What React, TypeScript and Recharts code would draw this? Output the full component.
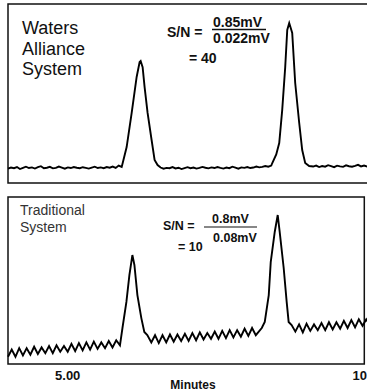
import React from 'react';
import { LineChart, Line, XAxis, YAxis, ReferenceArea } from 'recharts';

// time grid segments: start (min), step (min), signal values (mV)
type Segment = { start: number; step: number; values: number[] };

const topBaseLeft: Segment = {
    start: 4.0, step: 0.05,
    values: [0.085, 0.092, 0.088, 0.095, 0.083, 0.09, 0.097, 0.089, 0.093, 0.086, 0.094, 0.1, 0.088, 0.091, 0.096, 0.087, 0.09, 0.098, 0.092, 0.085,
        0.093, 0.089, 0.095, 0.091, 0.088, 0.094, 0.09, 0.086, 0.092, 0.097, 0.089, 0.093, 0.088, 0.095, 0.091, 0.098, 0.09, 0.104, 0.096],
};
const topPeak1: [number, number][] = [
    [5.917, 0.119], [5.983, 0.214], [6.067, 0.417], [6.15, 0.631], [6.2, 0.72], [6.217, 0.726],
    [6.25, 0.69], [6.283, 0.571], [6.333, 0.417], [6.4, 0.256], [6.45, 0.137], [6.5, 0.107],
];
const topBaseMid: Segment = {
    start: 6.55, step: 0.05,
    values: [0.092, 0.085, 0.09, 0.088, 0.095, 0.087, 0.091, 0.083, 0.089, 0.094, 0.088, 0.092, 0.086, 0.09, 0.096, 0.091, 0.087, 0.093, 0.089,
        0.095, 0.09, 0.086, 0.092, 0.088, 0.097, 0.091, 0.085, 0.093, 0.09, 0.095, 0.089, 0.092, 0.098, 0.093, 0.096, 0.101, 0.097, 0.104],
};
const topPeak2: [number, number][] = [
    [8.417, 0.119], [8.483, 0.17], [8.533, 0.238], [8.583, 0.435], [8.633, 0.69], [8.667, 0.911], [8.7, 0.952],
    [8.75, 0.893], [8.8, 0.595], [8.867, 0.357], [8.917, 0.196], [8.967, 0.119], [9.033, 0.101],
];
const topBaseRight: Segment = {
    start: 9.1, step: 0.05,
    values: [0.098, 0.104, 0.095, 0.101, 0.097, 0.106, 0.1, 0.094, 0.103, 0.099, 0.096, 0.105, 0.1, 0.097, 0.102, 0.108, 0.099, 0.104, 0.098, 0.105],
};

const bottomBaseLeft: Segment = {
    start: 4.0, step: 0.0625,
    values: [0.05, 0.1, 0.05, 0.11, 0.06, 0.11, 0.065, 0.12, 0.07, 0.115, 0.075, 0.125, 0.075, 0.13, 0.085, 0.125,
        0.085, 0.14, 0.09, 0.145, 0.095, 0.15, 0.1, 0.155, 0.105, 0.15, 0.11, 0.16, 0.115, 0.165, 0.13],
};
const bottomPeak1: [number, number][] = [
    [5.917, 0.25], [5.983, 0.431], [6.033, 0.618], [6.083, 0.757], [6.117, 0.688],
    [6.167, 0.479], [6.233, 0.319], [6.283, 0.222], [6.333, 0.201],
];
const bottomBaseMid: Segment = {
    start: 6.4, step: 0.0625,
    values: [0.15, 0.2, 0.145, 0.2, 0.15, 0.205, 0.155, 0.205, 0.16, 0.21, 0.16, 0.215, 0.165, 0.22, 0.17,
        0.215, 0.175, 0.225, 0.175, 0.23, 0.18, 0.235, 0.185, 0.235, 0.19, 0.245, 0.195, 0.25, 0.2],
};
const bottomPeak2: [number, number][] = [
    [8.25, 0.25], [8.3, 0.292], [8.367, 0.479], [8.4, 0.708], [8.467, 0.917], [8.517, 1.035],
    [8.55, 0.917], [8.617, 0.667], [8.667, 0.431], [8.7, 0.292], [8.75, 0.271],
];
const bottomBaseRight: Segment = {
    start: 8.8125, step: 0.0625,
    values: [0.225, 0.275, 0.22, 0.28, 0.23, 0.275, 0.235, 0.285, 0.235, 0.29, 0.24, 0.29, 0.245, 0.3, 0.25,
        0.305, 0.255, 0.31, 0.265, 0.31, 0.27],
};

const xTicks = [5, 10];
const xTickLabels: Record<number, string> = { 5: '5.00', 10: '10' };

const expand = (seg: Segment) => seg.values.map((v, i) => ({ t: +(seg.start + i * seg.step).toFixed(4), v }));
const pairs = (p: [number, number][]) => p.map(([t, v]) => ({ t, v }));

const topData = [...expand(topBaseLeft), ...pairs(topPeak1), ...expand(topBaseMid), ...pairs(topPeak2), ...expand(topBaseRight)];
const bottomData = [...expand(bottomBaseLeft), ...pairs(bottomPeak1), ...expand(bottomBaseMid), ...pairs(bottomPeak2), ...expand(bottomBaseRight)];

const FONT = '"Liberation Sans", Arial, Helvetica, sans-serif';
const X_DOMAIN: [number, number] = [4, 10.0333];

// the last label sits at the right edge of the page, so it is right-aligned there
const TimeTick = (props: any) => {
    const { x, y, payload } = props;
    const last = payload.value === 10;
    return (
        <text x={last ? 367 : x} y={y + 14} textAnchor={last ? 'end' : 'middle'}
            fill="#111" fontSize={13} fontWeight={700} fontFamily={FONT}>
            {xTickLabels[payload.value] ?? String(payload.value)}
        </text>
    );
};

const App: React.FC = () => {
    return (
        <div style={{ position: 'absolute', left: 0, top: 0, width: 367, height: 391, overflow: 'hidden', background: '#fff', fontFamily: FONT }}>
            <div style={{ position: 'absolute', left: 0, top: 0 }}>
                <LineChart width={380} height={190} data={topData} margin={{ top: 4, right: 10, left: 8, bottom: 7 }}>
                    <XAxis type="number" dataKey="t" domain={X_DOMAIN} hide />
                    <YAxis type="number" domain={[0, 1.0655]} hide />
                    <ReferenceArea x1={4} x2={10.0333} y1={0} y2={1.0655} fill="none" fillOpacity={0} stroke="#111" strokeWidth={1.5} ifOverflow="visible" />
                    <Line type="linear" dataKey="v" stroke="#000" strokeWidth={1.9} dot={false} isAnimationActive={false} />
                </LineChart>
            </div>
            <div style={{ position: 'absolute', left: 0, top: 190 }}>
                <LineChart width={380} height={201} data={bottomData} margin={{ top: 7, right: 10, left: 8, bottom: 0 }}>
                    <XAxis
                        type="number"
                        dataKey="t"
                        domain={X_DOMAIN}
                        ticks={xTicks}
                        axisLine={false}
                        tickLine={false}
                        tickSize={0}
                        height={27}
                        tick={<TimeTick />}
                        interval={0}
                    />
                    <YAxis type="number" domain={[0, 1.16]} hide />
                    <ReferenceArea x1={4} x2={9.967} y1={0} y2={1.16} fill="none" fillOpacity={0} stroke="#111" strokeWidth={1.5} ifOverflow="visible" />
                    <Line type="linear" dataKey="v" stroke="#000" strokeWidth={1.9} dot={false} isAnimationActive={false} />
                </LineChart>
            </div>
            <svg width={367} height={391} style={{ position: 'absolute', left: 0, top: 0, pointerEvents: 'none' }} fontFamily={FONT}>
                <g fill="#111" fontSize={18}>
                    <text x={22} y={34}>Waters</text>
                    <text x={22} y={54.5}>Alliance</text>
                    <text x={22} y={75}>System</text>
                </g>
                <g fill="#111" fontSize={14} fontWeight={700}>
                    <text x={167} y={37}>S/N =</text>
                    <text x={213} y={27}>0.85mV</text>
                    <text x={213} y={43}>0.022mV</text>
                    <text x={189} y={63}>= 40</text>
                </g>
                <line x1={212} x2={266} y1={29.5} y2={29.5} stroke="#111" strokeWidth={1.3} />
                <g fill="#333" fontSize={14}>
                    <text x={20} y={215}>Traditional</text>
                    <text x={20} y={232}>System</text>
                </g>
                <g fill="#111" fontSize={12.5} fontWeight={700}>
                    <text x={163} y={230}>S/N =</text>
                    <text x={212} y={223}>0.8mV</text>
                    <text x={213} y={242}>0.08mV</text>
                    <text x={178} y={251}>= 10</text>
                </g>
                <line x1={204} x2={257} y1={227} y2={227} stroke="#111" strokeWidth={1.2} />
                <text x={193} y={389} fill="#111" fontSize={12} fontWeight={700} textAnchor="middle">Minutes</text>
            </svg>
        </div>
    );
};

export default App;
